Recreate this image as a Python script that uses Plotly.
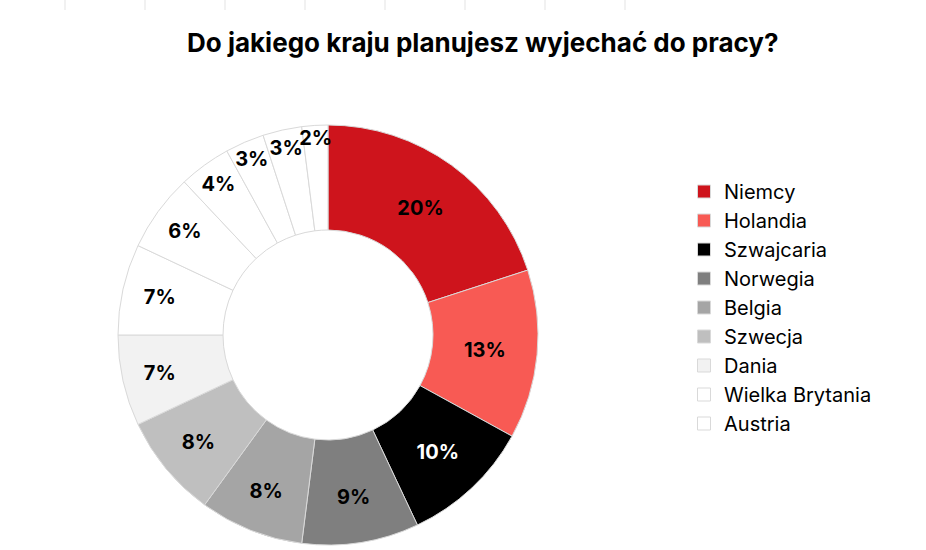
import plotly.graph_objects as go

labels = ["Niemcy", "Holandia", "Szwajcaria", "Norwegia", "Belgia", "Szwecja", "Dania",
          "Wielka Brytania", "Austria", "Francja", "Irlandia", "Szkocja", "Inne"]
values = [20, 13, 10, 9, 8, 8, 7, 7, 6, 4, 3, 3, 2]
colors = ["#CE141C", "#F85A54", "#000000", "#7F7F7F", "#A5A5A5", "#BFBFBF", "#F2F2F2",
          "#FFFFFF", "#FFFFFF", "#FFFFFF", "#FFFFFF", "#FFFFFF", "#FFFFFF"]
text_colors = ["#000000", "#000000", "#FFFFFF"] + ["#000000"] * 10
legend_count = 9  # legend in the reference shows only the first nine countries

W, H = 926, 550
cx, cy, r = 328, 335, 210

fig = go.Figure()
fig.add_trace(go.Pie(
    labels=labels, values=values, sort=False, direction="clockwise", rotation=0,
    hole=0.5,
    marker=dict(colors=colors, line=dict(color="#D9D9D9", width=1)),
    texttemplate="%{percent:.0%}", textinfo="percent",
    textposition="inside", insidetextorientation="horizontal",
    textfont=dict(family="Inter", size=20, color=text_colors, weight="bold"),
    showlegend=False, hoverinfo="label+percent",
    domain=dict(x=[(cx - r) / W, (cx + r) / W], y=[(H - cy - r) / H, (H - cy + r) / H]),
))

for i in range(legend_count):
    fig.add_trace(go.Scatter(
        x=[None], y=[None], mode="markers", name=labels[i],
        marker=dict(symbol="square", size=13, color=colors[i],
                    line=dict(color="#D9D9D9", width=1)),
    ))

shapes = []
for xv in [65, 145, 225, 305, 385, 465, 545, 625]:
    shapes.append(dict(type="line", xref="paper", yref="paper",
                       x0=xv / W, x1=xv / W, y0=1, y1=1 - 10 / H,
                       line=dict(color="#E3E3E3", width=1)))

fig.update_layout(
    width=W, height=H, margin=dict(l=0, r=0, t=0, b=0),
    paper_bgcolor="white", plot_bgcolor="white",
    xaxis=dict(visible=False), yaxis=dict(visible=False),
    uniformtext=dict(minsize=20, mode="show"),
    shapes=shapes,
    annotations=[dict(text="<b>Do jakiego kraju planujesz wyjechać do pracy?</b>",
                      x=483 / W, y=1 - 43 / H, xref="paper", yref="paper",
                      xanchor="center", yanchor="middle", showarrow=False,
                      font=dict(family="Inter", size=26, color="#000000"))],
    legend=dict(x=684 / W, y=1 - 172 / H, xanchor="left", yanchor="top",
                font=dict(family="Inter", size=20, color="#000000"),
                itemsizing="trace", tracegroupgap=0, bgcolor="rgba(0,0,0,0)"),
)

fig.write_html("out.html")
